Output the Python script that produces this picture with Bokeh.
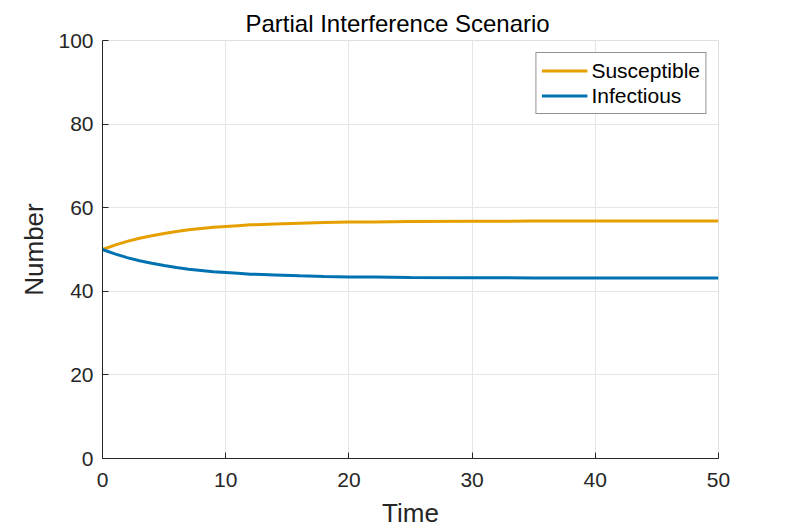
from bokeh.plotting import figure
from bokeh.models import Range1d, FixedTicker, Legend, LegendItem
from bokeh.embed import file_html
from bokeh.resources import INLINE

time = [0, 1, 2, 3, 4, 5, 6, 7, 8, 9, 10, 11, 12, 13, 14, 16, 18, 20, 22, 25, 30, 35, 40, 45, 50]
susceptible = [50.0, 51.05, 51.95, 52.7, 53.3, 53.85, 54.3, 54.7, 55.0, 55.3, 55.5, 55.7,
               55.9, 56.0, 56.1, 56.3, 56.45, 56.55, 56.6, 56.7, 56.75, 56.8, 56.8, 56.8, 56.8]
infectious = [50.0, 48.95, 48.05, 47.3, 46.7, 46.15, 45.7, 45.3, 45.0, 44.7, 44.5, 44.3,
              44.1, 44.0, 43.9, 43.7, 43.55, 43.45, 43.4, 43.3, 43.25, 43.2, 43.2, 43.2, 43.2]
x_ticks = [0, 10, 20, 30, 40, 50]
y_ticks = [0, 20, 40, 60, 80, 100]

FONT = "Liberation Sans"
DARK = "#262626"

p = figure(frame_width=616, frame_height=418, output_backend="svg", toolbar_location=None,
           x_range=Range1d(0, 50), y_range=Range1d(0, 100),
           min_border_left=102, min_border_right=60, min_border_top=40, min_border_bottom=70,
           title="Partial Interference Scenario")
p.outline_line_color = "#e0e0e0"
p.title.align = "left"
p.title.offset = 143
p.title.text_font = FONT
p.title.text_font_size = "24px"
p.title.text_font_style = "normal"
p.title.text_color = "#000000"
p.title.standoff = 8

r1 = p.line(time, susceptible, line_color="#E69F00", line_width=3)
r2 = p.line(time, infectious, line_color="#0072B2", line_width=3)

for ax in (p.xaxis[0], p.yaxis[0]):
    ax.axis_line_color = DARK
    ax.major_tick_line_color = DARK
    ax.major_tick_in = 6
    ax.major_tick_out = 0
    ax.minor_tick_line_color = None
    ax.major_label_text_font = FONT
    ax.major_label_text_font_size = "21px"
    ax.major_label_text_color = DARK
    ax.axis_label_text_font = FONT
    ax.axis_label_text_font_size = "26px"
    ax.axis_label_text_font_style = "normal"
    ax.axis_label_text_color = DARK

p.xaxis.ticker = FixedTicker(ticks=x_ticks)
p.yaxis.ticker = FixedTicker(ticks=y_ticks)
p.xaxis.axis_label = "Time"
p.yaxis.axis_label = "Number"
p.xaxis.major_label_standoff = 14
p.yaxis.major_label_standoff = 9
p.xaxis.axis_label_standoff = 8
p.yaxis.axis_label_standoff = 6

p.grid.grid_line_color = "#e6e6e6"
p.grid.grid_line_width = 1

legend = Legend(items=[LegendItem(label="Susceptible", renderers=[r1]),
                       LegendItem(label="Infectious", renderers=[r2])],
                location="top_right")
legend.label_text_font = FONT
legend.label_text_font_size = "21px"
legend.label_text_color = "#000000"
legend.border_line_color = DARK
legend.border_line_width = 1
legend.margin = 12
legend.padding = 5
legend.spacing = 0
legend.glyph_width = 46
legend.glyph_height = 25
legend.label_height = 25
legend.label_standoff = 4
legend.background_fill_alpha = 1
p.add_layout(legend)

open("out.html", "w").write(file_html(p, INLINE))
